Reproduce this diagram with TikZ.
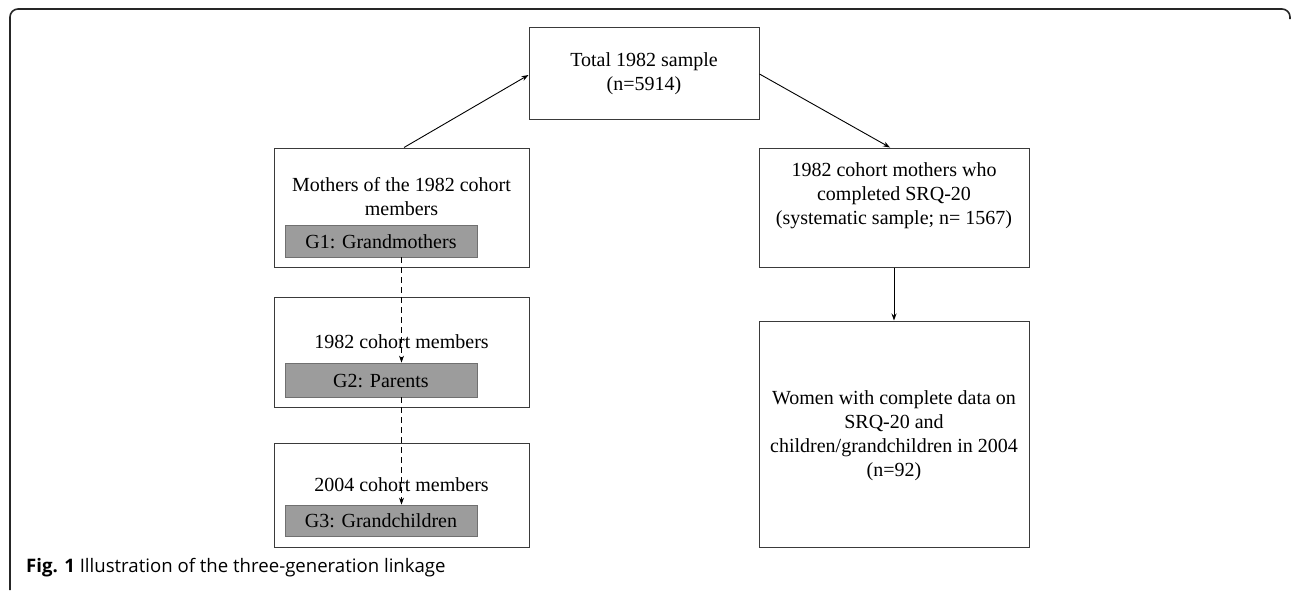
\documentclass[tikz,border=0pt]{standalone}
\usepackage{fontspec}
\setmainfont{Liberation Serif}
\newfontfamily\capfont{Open Sans}
\usetikzlibrary{arrows.meta}
\definecolor{boxline}{HTML}{3A3A3A}
\definecolor{grayfill}{HTML}{9C9C9C}
\definecolor{grayline}{HTML}{707070}
\tikzset{
  boxnode/.style={draw=boxline, line width=1pt, fill=white, inner sep=0pt},
  graynode/.style={draw=grayline, line width=0.8pt, fill=grayfill, inner sep=0pt},
  txt/.style={font=\fontsize{20}{24}\selectfont, align=center, inner sep=0pt, text=black},
  arr/.style={draw=black, line width=0.9pt, -{Stealth[length=7pt,width=5pt]}},
  darr/.style={draw=black, line width=0.9pt, dash pattern=on 6pt off 4pt, -{Stealth[length=7pt,width=5pt]}}
}
\begin{document}
\begin{tikzpicture}[x=1pt,y=-1pt]
\useasboundingbox (0,0) rectangle (1292,590);
% outer frame
\draw[line width=1.6pt, black!85] (10,590) -- (10,17) arc[start angle=180,end angle=270,radius=8] -- (1282,9) arc[start angle=270,end angle=360,radius=8] -- (1290,19);
% boxes
\node[boxnode, minimum width=230pt, minimum height=92pt] (top) at (644,73) {};
\node[boxnode, minimum width=255pt, minimum height=119pt] (L1) at (401.5,207.5) {};
\node[boxnode, minimum width=255pt, minimum height=110pt] (L2) at (401.5,352) {};
\node[boxnode, minimum width=255pt, minimum height=104pt] (L3) at (401.5,495) {};
\node[boxnode, minimum width=270pt, minimum height=119pt] (R1) at (894,207.5) {};
\node[boxnode, minimum width=270pt, minimum height=226pt] (R2) at (894,434) {};
\node[graynode, minimum width=192pt, minimum height=32pt] (G1) at (381,241) {};
\node[graynode, minimum width=192pt, minimum height=34pt] (G2) at (381,380) {};
\node[graynode, minimum width=192pt, minimum height=31pt] (G3) at (381,520.5) {};
% texts
\node[txt] (topt) at (644,74) {Total 1982 sample\\(n=5914)};
\node[txt] (L1t) at (401.5,197) {Mothers of the 1982 cohort\\members};
\node[txt] (G1t) at (381,242) {G1: Grandmothers};
\node[txt] (L2t) at (401.5,342) {1982 cohort members};
\node[txt] (G2t) at (381,381) {G2: Parents};
\node[txt] (L3t) at (401.5,485) {2004 cohort members};
\node[txt] (G3t) at (381,521) {G3: Grandchildren};
\node[txt] (R1t) at (894,196) {1982 cohort mothers who\\completed SRQ-20\\(systematic sample; n= 1567)};
\node[txt] (R2t) at (894,436) {Women with complete data on\\SRQ-20 and\\children/grandchildren in 2004\\(n=92)};
% connectors
\draw[arr] ([xshift=2.5pt]L1.north) -- ([yshift=-2pt]top.west);
\draw[arr] ([yshift=-1pt]top.east) -- ([xshift=-4pt]R1.north);
\draw[arr] (R1.south) -- (R2.north);
\draw[darr] (G1.south -| L1.north) -- (G2.north -| L1.north);
\draw[darr] (G2.south -| L1.north) -- (G3.north -| L1.north);
% caption
\node[anchor=base west, inner sep=0pt, font=\capfont\fontsize{18.6}{21}\selectfont] (cap) at (26,572) {\textbf{Fig. 1} Illustration of the three-generation linkage};
\end{tikzpicture}
\end{document}
